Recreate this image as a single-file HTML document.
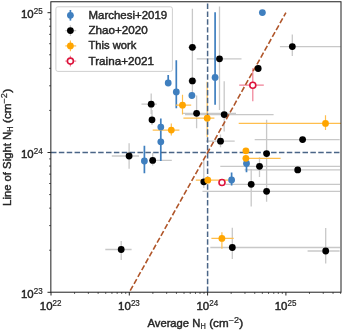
<!DOCTYPE html>
<html><head><meta charset="utf-8"><style>
html,body{margin:0;padding:0;background:#fff;width:343px;height:330px;overflow:hidden}
svg{display:block;will-change:transform;filter:blur(0.3px)}
text{font-family:"Liberation Sans",sans-serif;fill:#262626;stroke:#262626;stroke-width:0.42px}
text.sup{stroke-width:0.22px}
</style></head><body>
<svg width="343" height="330" viewBox="0 0 343 330">
<rect width="343" height="330" fill="#fff"/>
<defs><clipPath id="ax"><rect x="51" y="1.75" width="290" height="290.25"/></clipPath></defs>
<g clip-path="url(#ax)">
<line x1="188.00" y1="47.30" x2="196.50" y2="47.30" stroke="#c8c8c8" stroke-width="1.3"/>
<line x1="192.40" y1="8.80" x2="192.40" y2="64.00" stroke="#c8c8c8" stroke-width="1.3"/>
<line x1="196.70" y1="58.80" x2="241.50" y2="58.80" stroke="#c8c8c8" stroke-width="1.3"/>
<line x1="219.50" y1="6.50" x2="219.50" y2="110.00" stroke="#c8c8c8" stroke-width="1.3"/>
<line x1="279.90" y1="46.60" x2="340.70" y2="46.60" stroke="#c8c8c8" stroke-width="1.3"/>
<line x1="292.30" y1="34.40" x2="292.30" y2="56.00" stroke="#c8c8c8" stroke-width="1.3"/>
<line x1="188.00" y1="80.90" x2="196.50" y2="80.90" stroke="#c8c8c8" stroke-width="1.3"/>
<line x1="192.40" y1="64.00" x2="192.40" y2="95.00" stroke="#c8c8c8" stroke-width="1.3"/>
<line x1="141.50" y1="104.20" x2="156.80" y2="104.20" stroke="#c8c8c8" stroke-width="1.3"/>
<line x1="151.20" y1="93.50" x2="151.20" y2="114.00" stroke="#c8c8c8" stroke-width="1.3"/>
<line x1="152.00" y1="110.00" x2="152.00" y2="125.00" stroke="#c8c8c8" stroke-width="1.3"/>
<line x1="182.80" y1="113.30" x2="236.00" y2="113.30" stroke="#c8c8c8" stroke-width="1.3"/>
<line x1="196.60" y1="95.60" x2="196.60" y2="128.20" stroke="#c8c8c8" stroke-width="1.3"/>
<line x1="185.00" y1="114.60" x2="273.60" y2="114.60" stroke="#c8c8c8" stroke-width="1.3"/>
<line x1="224.20" y1="81.20" x2="224.20" y2="131.50" stroke="#c8c8c8" stroke-width="1.3"/>
<line x1="206.00" y1="141.20" x2="234.70" y2="141.20" stroke="#c8c8c8" stroke-width="1.3"/>
<line x1="220.50" y1="134.50" x2="220.50" y2="147.30" stroke="#c8c8c8" stroke-width="1.3"/>
<line x1="111.80" y1="156.00" x2="139.00" y2="156.00" stroke="#c8c8c8" stroke-width="1.3"/>
<line x1="129.10" y1="143.30" x2="129.10" y2="168.70" stroke="#c8c8c8" stroke-width="1.3"/>
<line x1="149.00" y1="160.40" x2="171.80" y2="160.40" stroke="#c8c8c8" stroke-width="1.3"/>
<line x1="152.70" y1="152.70" x2="152.70" y2="165.50" stroke="#c8c8c8" stroke-width="1.3"/>
<line x1="266.60" y1="119.80" x2="266.60" y2="201.80" stroke="#c8c8c8" stroke-width="1.3"/>
<line x1="254.70" y1="139.60" x2="339.70" y2="139.60" stroke="#c8c8c8" stroke-width="1.3"/>
<line x1="220.30" y1="166.30" x2="340.00" y2="166.30" stroke="#c8c8c8" stroke-width="1.3"/>
<line x1="259.50" y1="157.30" x2="259.50" y2="176.90" stroke="#c8c8c8" stroke-width="1.3"/>
<line x1="244.60" y1="169.90" x2="340.00" y2="169.90" stroke="#c8c8c8" stroke-width="1.3"/>
<line x1="203.80" y1="159.40" x2="203.80" y2="188.00" stroke="#c8c8c8" stroke-width="1.3"/>
<line x1="225.80" y1="184.30" x2="340.00" y2="184.30" stroke="#c8c8c8" stroke-width="1.3"/>
<line x1="251.20" y1="169.00" x2="251.20" y2="206.40" stroke="#c8c8c8" stroke-width="1.3"/>
<line x1="202.50" y1="191.30" x2="340.00" y2="191.30" stroke="#c8c8c8" stroke-width="1.3"/>
<line x1="210.30" y1="247.50" x2="340.00" y2="247.50" stroke="#c8c8c8" stroke-width="1.3"/>
<line x1="232.30" y1="227.70" x2="232.30" y2="259.10" stroke="#c8c8c8" stroke-width="1.3"/>
<line x1="307.60" y1="251.00" x2="339.60" y2="251.00" stroke="#c8c8c8" stroke-width="1.3"/>
<line x1="325.70" y1="227.90" x2="325.70" y2="263.50" stroke="#c8c8c8" stroke-width="1.3"/>
<line x1="105.30" y1="249.50" x2="131.60" y2="249.50" stroke="#c8c8c8" stroke-width="1.3"/>
<line x1="121.20" y1="240.90" x2="121.20" y2="259.90" stroke="#c8c8c8" stroke-width="1.3"/>
<line x1="168.20" y1="74.90" x2="168.20" y2="86.00" stroke="#3f7fbf" stroke-width="1.7"/>
<line x1="176.30" y1="60.30" x2="176.30" y2="108.30" stroke="#3f7fbf" stroke-width="1.7"/>
<line x1="215.10" y1="12.30" x2="215.10" y2="104.80" stroke="#3f7fbf" stroke-width="1.7"/>
<line x1="160.80" y1="118.40" x2="160.80" y2="161.00" stroke="#3f7fbf" stroke-width="1.7"/>
<line x1="144.40" y1="145.80" x2="144.40" y2="173.20" stroke="#3f7fbf" stroke-width="1.7"/>
<line x1="231.60" y1="172.40" x2="231.60" y2="185.50" stroke="#3f7fbf" stroke-width="1.7"/>
<line x1="246.50" y1="156.00" x2="246.50" y2="172.20" stroke="#3f7fbf" stroke-width="1.7"/>
<line x1="175.80" y1="105.20" x2="191.20" y2="105.20" stroke="#ffbe4d" stroke-width="1.2"/>
<line x1="182.50" y1="94.70" x2="182.50" y2="114.50" stroke="#ffbe4d" stroke-width="1.2"/>
<line x1="183.40" y1="118.20" x2="214.40" y2="118.20" stroke="#ffbe4d" stroke-width="1.2"/>
<line x1="207.20" y1="81.80" x2="207.20" y2="137.00" stroke="#ffbe4d" stroke-width="1.2"/>
<line x1="152.70" y1="130.10" x2="179.40" y2="130.10" stroke="#ffbe4d" stroke-width="1.2"/>
<line x1="171.30" y1="123.50" x2="171.30" y2="135.50" stroke="#ffbe4d" stroke-width="1.2"/>
<line x1="238.70" y1="123.40" x2="341.00" y2="123.40" stroke="#ffbe4d" stroke-width="1.2"/>
<line x1="325.50" y1="115.20" x2="325.50" y2="130.00" stroke="#ffbe4d" stroke-width="1.2"/>
<line x1="245.90" y1="158.30" x2="280.60" y2="158.30" stroke="#ffbe4d" stroke-width="1.2"/>
<line x1="195.80" y1="180.20" x2="228.50" y2="180.20" stroke="#ffbe4d" stroke-width="1.2"/>
<line x1="211.40" y1="238.40" x2="233.70" y2="238.40" stroke="#ffbe4d" stroke-width="1.2"/>
<line x1="221.90" y1="232.30" x2="221.90" y2="248.70" stroke="#ffbe4d" stroke-width="1.2"/>
<line x1="239.20" y1="85.20" x2="263.80" y2="85.20" stroke="#f07f95" stroke-width="1.2"/>
<line x1="252.80" y1="68.20" x2="252.80" y2="101.30" stroke="#f07f95" stroke-width="1.2"/>
<line x1="51.00" y1="152.50" x2="341.00" y2="152.50" stroke="#4a6587" stroke-width="1.5" stroke-dasharray="5.49 2.37"/>
<line x1="207.60" y1="292.00" x2="207.60" y2="1.75" stroke="#4a6587" stroke-width="1.5" stroke-dasharray="5.49 2.37"/>
<line x1="129.30" y1="292.30" x2="285.90" y2="12.70" stroke="#b0562a" stroke-width="1.6" stroke-dasharray="5.49 2.37" stroke-dashoffset="6.0"/>
<circle cx="192.40" cy="47.30" r="3.4" fill="#000"/>
<circle cx="219.50" cy="58.80" r="3.4" fill="#000"/>
<circle cx="292.30" cy="46.60" r="3.4" fill="#000"/>
<circle cx="258.20" cy="68.50" r="3.4" fill="#000"/>
<circle cx="192.40" cy="80.90" r="3.4" fill="#000"/>
<circle cx="151.20" cy="104.20" r="3.4" fill="#000"/>
<circle cx="152.00" cy="119.80" r="3.4" fill="#000"/>
<circle cx="196.60" cy="113.30" r="3.4" fill="#000"/>
<circle cx="224.20" cy="114.60" r="3.4" fill="#000"/>
<circle cx="220.50" cy="141.20" r="3.4" fill="#000"/>
<circle cx="129.10" cy="156.00" r="3.4" fill="#000"/>
<circle cx="152.70" cy="160.40" r="3.4" fill="#000"/>
<circle cx="266.60" cy="153.60" r="3.4" fill="#000"/>
<circle cx="302.60" cy="139.60" r="3.4" fill="#000"/>
<circle cx="259.50" cy="166.30" r="3.4" fill="#000"/>
<circle cx="297.70" cy="169.90" r="3.4" fill="#000"/>
<circle cx="203.80" cy="181.80" r="3.4" fill="#000"/>
<circle cx="251.20" cy="184.30" r="3.4" fill="#000"/>
<circle cx="266.60" cy="191.30" r="3.4" fill="#000"/>
<circle cx="232.30" cy="247.50" r="3.4" fill="#000"/>
<circle cx="325.70" cy="251.00" r="3.4" fill="#000"/>
<circle cx="121.20" cy="249.50" r="3.4" fill="#000"/>
<circle cx="262.40" cy="12.60" r="3.4" fill="#3f7fbf"/>
<circle cx="168.20" cy="83.00" r="3.4" fill="#3f7fbf"/>
<circle cx="176.30" cy="91.90" r="3.4" fill="#3f7fbf"/>
<circle cx="191.90" cy="95.50" r="3.4" fill="#3f7fbf"/>
<circle cx="215.10" cy="77.40" r="3.4" fill="#3f7fbf"/>
<circle cx="160.80" cy="127.10" r="3.4" fill="#3f7fbf"/>
<circle cx="160.80" cy="141.80" r="3.4" fill="#3f7fbf"/>
<circle cx="144.40" cy="161.00" r="3.4" fill="#3f7fbf"/>
<circle cx="231.60" cy="180.00" r="3.4" fill="#3f7fbf"/>
<circle cx="246.50" cy="163.50" r="3.4" fill="#3f7fbf"/>
<circle cx="182.50" cy="105.20" r="3.4" fill="#ffa500"/>
<circle cx="207.20" cy="118.20" r="3.4" fill="#ffa500"/>
<circle cx="171.30" cy="130.10" r="3.4" fill="#ffa500"/>
<circle cx="325.50" cy="123.40" r="3.4" fill="#ffa500"/>
<circle cx="245.90" cy="150.80" r="3.4" fill="#ffa500"/>
<circle cx="245.90" cy="158.30" r="3.4" fill="#ffa500"/>
<circle cx="207.80" cy="180.20" r="3.4" fill="#ffa500"/>
<circle cx="221.90" cy="238.40" r="3.4" fill="#ffa500"/>
<circle cx="252.80" cy="85.20" r="3.0" fill="#fff" stroke="#dc143c" stroke-width="1.6"/>
<circle cx="222.00" cy="182.50" r="3.0" fill="#fff" stroke="#dc143c" stroke-width="1.6"/>
</g>

<rect x="55.9" y="6.8" width="116.5" height="64.6" rx="2" ry="2" fill="#fff" fill-opacity="0.8" stroke="#cfcfcf" stroke-width="1"/>
<line x1="70.4" y1="10.0" x2="70.4" y2="20.6" stroke="#3f7fbf" stroke-width="1.7"/>
<circle cx="70.4" cy="15.3" r="3.4" fill="#3f7fbf"/>
<line x1="65.3" y1="30.6" x2="76.2" y2="30.6" stroke="#c8c8c8" stroke-width="1.3"/>
<line x1="70.4" y1="25.3" x2="70.4" y2="35.9" stroke="#c8c8c8" stroke-width="1.3"/>
<circle cx="70.4" cy="30.6" r="3.4" fill="#000"/>
<line x1="65.3" y1="45.9" x2="76.2" y2="45.9" stroke="#ffbe4d" stroke-width="1.2"/>
<line x1="70.4" y1="40.6" x2="70.4" y2="51.2" stroke="#ffbe4d" stroke-width="1.2"/>
<circle cx="70.4" cy="45.9" r="3.4" fill="#ffa500"/>
<line x1="65.3" y1="61.1" x2="76.2" y2="61.1" stroke="#f07f95" stroke-width="1.2"/>
<line x1="70.4" y1="55.8" x2="70.4" y2="66.4" stroke="#f07f95" stroke-width="1.2"/>
<circle cx="70.4" cy="61.1" r="3.0" fill="#fff" stroke="#dc143c" stroke-width="1.6"/>
<text x="88.50" y="18.80" font-size="10.6" textLength="78.67" lengthAdjust="spacingAndGlyphs">Marchesi+2019</text><text x="88.50" y="34.00" font-size="10.6" textLength="59.26" lengthAdjust="spacingAndGlyphs">Zhao+2020</text><text x="88.50" y="49.30" font-size="10.6" textLength="47.81" lengthAdjust="spacingAndGlyphs">This work</text><text x="88.50" y="64.70" font-size="10.6" textLength="65.42" lengthAdjust="spacingAndGlyphs">Traina+2021</text>
<rect x="50.85" y="1.75" width="290.15" height="290.45" fill="none" stroke="#1e1e1e" stroke-width="1.0"/>
<line x1="51.00" y1="292" x2="51.00" y2="295.5" stroke="#262626" stroke-width="1"/>
<line x1="74.57" y1="292" x2="74.57" y2="294" stroke="#262626" stroke-width="0.7"/>
<line x1="88.36" y1="292" x2="88.36" y2="294" stroke="#262626" stroke-width="0.7"/>
<line x1="98.14" y1="292" x2="98.14" y2="294" stroke="#262626" stroke-width="0.7"/>
<line x1="105.73" y1="292" x2="105.73" y2="294" stroke="#262626" stroke-width="0.7"/>
<line x1="111.93" y1="292" x2="111.93" y2="294" stroke="#262626" stroke-width="0.7"/>
<line x1="117.17" y1="292" x2="117.17" y2="294" stroke="#262626" stroke-width="0.7"/>
<line x1="121.71" y1="292" x2="121.71" y2="294" stroke="#262626" stroke-width="0.7"/>
<line x1="125.72" y1="292" x2="125.72" y2="294" stroke="#262626" stroke-width="0.7"/>
<line x1="129.30" y1="292" x2="129.30" y2="295.5" stroke="#262626" stroke-width="1"/>
<line x1="152.87" y1="292" x2="152.87" y2="294" stroke="#262626" stroke-width="0.7"/>
<line x1="166.66" y1="292" x2="166.66" y2="294" stroke="#262626" stroke-width="0.7"/>
<line x1="176.44" y1="292" x2="176.44" y2="294" stroke="#262626" stroke-width="0.7"/>
<line x1="184.03" y1="292" x2="184.03" y2="294" stroke="#262626" stroke-width="0.7"/>
<line x1="190.23" y1="292" x2="190.23" y2="294" stroke="#262626" stroke-width="0.7"/>
<line x1="195.47" y1="292" x2="195.47" y2="294" stroke="#262626" stroke-width="0.7"/>
<line x1="200.01" y1="292" x2="200.01" y2="294" stroke="#262626" stroke-width="0.7"/>
<line x1="204.02" y1="292" x2="204.02" y2="294" stroke="#262626" stroke-width="0.7"/>
<line x1="207.60" y1="292" x2="207.60" y2="295.5" stroke="#262626" stroke-width="1"/>
<line x1="231.17" y1="292" x2="231.17" y2="294" stroke="#262626" stroke-width="0.7"/>
<line x1="244.96" y1="292" x2="244.96" y2="294" stroke="#262626" stroke-width="0.7"/>
<line x1="254.74" y1="292" x2="254.74" y2="294" stroke="#262626" stroke-width="0.7"/>
<line x1="262.33" y1="292" x2="262.33" y2="294" stroke="#262626" stroke-width="0.7"/>
<line x1="268.53" y1="292" x2="268.53" y2="294" stroke="#262626" stroke-width="0.7"/>
<line x1="273.77" y1="292" x2="273.77" y2="294" stroke="#262626" stroke-width="0.7"/>
<line x1="278.31" y1="292" x2="278.31" y2="294" stroke="#262626" stroke-width="0.7"/>
<line x1="282.32" y1="292" x2="282.32" y2="294" stroke="#262626" stroke-width="0.7"/>
<line x1="285.90" y1="292" x2="285.90" y2="295.5" stroke="#262626" stroke-width="1"/>
<line x1="309.47" y1="292" x2="309.47" y2="294" stroke="#262626" stroke-width="0.7"/>
<line x1="323.26" y1="292" x2="323.26" y2="294" stroke="#262626" stroke-width="0.7"/>
<line x1="333.04" y1="292" x2="333.04" y2="294" stroke="#262626" stroke-width="0.7"/>
<line x1="340.63" y1="292" x2="340.63" y2="294" stroke="#262626" stroke-width="0.7"/>
<line x1="47.5" y1="292.30" x2="51" y2="292.30" stroke="#262626" stroke-width="1"/>
<line x1="49" y1="250.22" x2="51" y2="250.22" stroke="#262626" stroke-width="0.7"/>
<line x1="49" y1="225.60" x2="51" y2="225.60" stroke="#262626" stroke-width="0.7"/>
<line x1="49" y1="208.13" x2="51" y2="208.13" stroke="#262626" stroke-width="0.7"/>
<line x1="49" y1="194.58" x2="51" y2="194.58" stroke="#262626" stroke-width="0.7"/>
<line x1="49" y1="183.51" x2="51" y2="183.51" stroke="#262626" stroke-width="0.7"/>
<line x1="49" y1="174.16" x2="51" y2="174.16" stroke="#262626" stroke-width="0.7"/>
<line x1="49" y1="166.05" x2="51" y2="166.05" stroke="#262626" stroke-width="0.7"/>
<line x1="49" y1="158.90" x2="51" y2="158.90" stroke="#262626" stroke-width="0.7"/>
<line x1="47.5" y1="152.50" x2="51" y2="152.50" stroke="#262626" stroke-width="1"/>
<line x1="49" y1="110.42" x2="51" y2="110.42" stroke="#262626" stroke-width="0.7"/>
<line x1="49" y1="85.80" x2="51" y2="85.80" stroke="#262626" stroke-width="0.7"/>
<line x1="49" y1="68.33" x2="51" y2="68.33" stroke="#262626" stroke-width="0.7"/>
<line x1="49" y1="54.78" x2="51" y2="54.78" stroke="#262626" stroke-width="0.7"/>
<line x1="49" y1="43.71" x2="51" y2="43.71" stroke="#262626" stroke-width="0.7"/>
<line x1="49" y1="34.36" x2="51" y2="34.36" stroke="#262626" stroke-width="0.7"/>
<line x1="49" y1="26.25" x2="51" y2="26.25" stroke="#262626" stroke-width="0.7"/>
<line x1="49" y1="19.10" x2="51" y2="19.10" stroke="#262626" stroke-width="0.7"/>
<line x1="47.5" y1="12.70" x2="51" y2="12.70" stroke="#262626" stroke-width="1"/>
<text x="39.80" y="310.10" font-size="10.6" textLength="12.72" lengthAdjust="spacingAndGlyphs">10</text><text x="52.62" y="306.28" font-size="8.3" textLength="8.91" lengthAdjust="spacingAndGlyphs" class="sup">22</text>
<text x="118.10" y="310.10" font-size="10.6" textLength="12.72" lengthAdjust="spacingAndGlyphs">10</text><text x="130.92" y="306.28" font-size="8.3" textLength="8.91" lengthAdjust="spacingAndGlyphs" class="sup">23</text>
<text x="196.40" y="310.10" font-size="10.6" textLength="12.72" lengthAdjust="spacingAndGlyphs">10</text><text x="209.22" y="306.28" font-size="8.3" textLength="8.91" lengthAdjust="spacingAndGlyphs" class="sup">24</text>
<text x="274.70" y="310.10" font-size="10.6" textLength="12.72" lengthAdjust="spacingAndGlyphs">10</text><text x="287.52" y="306.28" font-size="8.3" textLength="8.91" lengthAdjust="spacingAndGlyphs" class="sup">25</text>
<text x="20.90" y="297.90" font-size="10.6" textLength="12.72" lengthAdjust="spacingAndGlyphs">10</text><text x="33.72" y="294.08" font-size="8.3" textLength="8.91" lengthAdjust="spacingAndGlyphs" class="sup">23</text>
<text x="20.90" y="158.10" font-size="10.6" textLength="12.72" lengthAdjust="spacingAndGlyphs">10</text><text x="33.72" y="154.28" font-size="8.3" textLength="8.91" lengthAdjust="spacingAndGlyphs" class="sup">24</text>
<text x="20.90" y="18.30" font-size="10.6" textLength="12.72" lengthAdjust="spacingAndGlyphs">10</text><text x="33.72" y="14.48" font-size="8.3" textLength="8.91" lengthAdjust="spacingAndGlyphs" class="sup">25</text>
<text x="147.50" y="327.30" font-size="10.6" textLength="52.83" lengthAdjust="spacingAndGlyphs">Average N</text><text x="200.43" y="328.94" font-size="8.3" textLength="5.32" lengthAdjust="spacingAndGlyphs" class="sup">H</text><text x="209.23" y="327.30" font-size="10.6" textLength="19.33" lengthAdjust="spacingAndGlyphs">(cm</text><text x="228.66" y="323.48" font-size="8.3" textLength="10.42" lengthAdjust="spacingAndGlyphs" class="sup">−2</text><text x="239.36" y="327.30" font-size="10.6" textLength="3.94" lengthAdjust="spacingAndGlyphs">)</text><g transform="translate(11.3,205.9) rotate(-90)"><text x="0.00" y="0.00" font-size="10.6" textLength="74.03" lengthAdjust="spacingAndGlyphs">Line of Sight N</text><text x="74.13" y="1.64" font-size="8.3" textLength="5.32" lengthAdjust="spacingAndGlyphs" class="sup">H</text><text x="82.94" y="0.00" font-size="10.6" textLength="19.35" lengthAdjust="spacingAndGlyphs">(cm</text><text x="102.39" y="-3.82" font-size="8.3" textLength="10.43" lengthAdjust="spacingAndGlyphs" class="sup">−2</text><text x="113.10" y="0.00" font-size="10.6" textLength="3.94" lengthAdjust="spacingAndGlyphs">)</text></g>
</svg>
</body></html>
